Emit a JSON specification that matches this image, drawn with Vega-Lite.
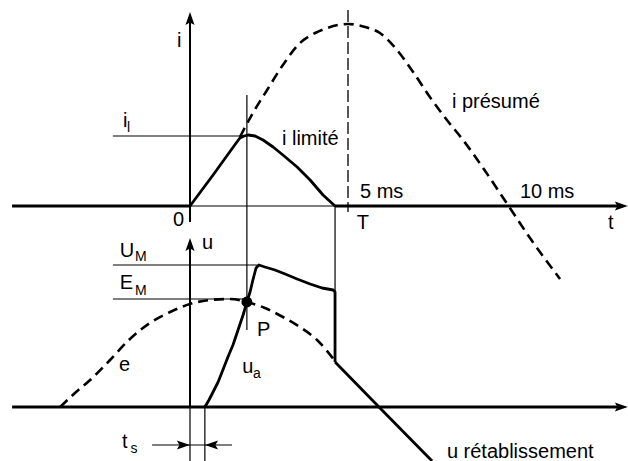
{
  "$schema": "https://vega.github.io/schema/vega-lite/v6.json",
  "width": 628,
  "height": 461,
  "padding": 0,
  "autosize": "none",
  "background": "white",
  "config": {"view": {"stroke": null}},
  "datasets": {
    "courbes": [
      {"s": "axe_t_haut", "k": 0, "t": -5.63, "v": 255},
      {"s": "axe_t_haut", "k": 1, "t": 13.54, "v": 255},
      {"s": "i_zero_avant", "k": 0, "t": -5.63, "v": 255},
      {"s": "i_zero_avant", "k": 1, "t": 0, "v": 255},
      {"s": "i_zero_apres", "k": 0, "t": 4.59, "v": 255},
      {"s": "i_zero_apres", "k": 1, "t": 13.54, "v": 255},
      {"s": "axe_i", "k": 0, "t": 0, "v": 239},
      {"s": "axe_i", "k": 1, "t": 0, "v": 440},
      {"s": "ref_il", "k": 0, "t": -2.44, "v": 325},
      {"s": "ref_il", "k": 1, "t": 1.8, "v": 325},
      {"s": "ref_247", "k": 0, "t": 1.8, "v": 366},
      {"s": "ref_247", "k": 1, "t": 1.8, "v": 131},
      {"s": "ref_335", "k": 0, "t": 4.59, "v": 255},
      {"s": "ref_335", "k": 1, "t": 4.59, "v": 169},
      {"s": "T", "k": 0, "t": 5.0, "v": 451},
      {"s": "T", "k": 1, "t": 5.0, "v": 249},
      {"s": "i_limite", "k": 0, "t": 0, "v": 255},
      {"s": "i_limite", "k": 1, "t": 0.73, "v": 286},
      {"s": "i_limite", "k": 2, "t": 1.46, "v": 318},
      {"s": "i_limite", "k": 3, "t": 1.58, "v": 323},
      {"s": "i_limite", "k": 4, "t": 1.71, "v": 325},
      {"s": "i_limite", "k": 5, "t": 1.84, "v": 326},
      {"s": "i_limite", "k": 6, "t": 2.06, "v": 325},
      {"s": "i_limite", "k": 7, "t": 2.31, "v": 321},
      {"s": "i_limite", "k": 8, "t": 2.63, "v": 314},
      {"s": "i_limite", "k": 9, "t": 2.94, "v": 306},
      {"s": "i_limite", "k": 10, "t": 3.39, "v": 294},
      {"s": "i_limite", "k": 11, "t": 3.8, "v": 281},
      {"s": "i_limite", "k": 12, "t": 4.21, "v": 266},
      {"s": "i_limite", "k": 13, "t": 4.59, "v": 255},
      {"s": "i_presume", "k": 0, "t": 1.58, "v": 324},
      {"s": "i_presume", "k": 1, "t": 1.99, "v": 348},
      {"s": "i_presume", "k": 2, "t": 2.44, "v": 371},
      {"s": "i_presume", "k": 3, "t": 2.94, "v": 396},
      {"s": "i_presume", "k": 4, "t": 3.48, "v": 418},
      {"s": "i_presume", "k": 5, "t": 3.96, "v": 428},
      {"s": "i_presume", "k": 6, "t": 4.34, "v": 433},
      {"s": "i_presume", "k": 7, "t": 4.68, "v": 436},
      {"s": "i_presume", "k": 8, "t": 5.0, "v": 437},
      {"s": "i_presume", "k": 9, "t": 5.54, "v": 434},
      {"s": "i_presume", "k": 10, "t": 6.01, "v": 428},
      {"s": "i_presume", "k": 11, "t": 6.55, "v": 411},
      {"s": "i_presume", "k": 12, "t": 7.06, "v": 389},
      {"s": "i_presume", "k": 13, "t": 7.59, "v": 364},
      {"s": "i_presume", "k": 14, "t": 8.13, "v": 341},
      {"s": "i_presume", "k": 15, "t": 8.64, "v": 321},
      {"s": "i_presume", "k": 16, "t": 9.34, "v": 290},
      {"s": "i_presume", "k": 17, "t": 10.06, "v": 256},
      {"s": "i_presume", "k": 18, "t": 10.76, "v": 223},
      {"s": "i_presume", "k": 19, "t": 11.71, "v": 182},
      {"s": "axe_t_bas", "k": 0, "t": -5.63, "v": 54},
      {"s": "axe_t_bas", "k": 1, "t": 13.54, "v": 54},
      {"s": "axe_u", "k": 0, "t": 0, "v": 54},
      {"s": "axe_u", "k": 1, "t": 0, "v": 218},
      {"s": "axe_u_bas", "k": 0, "t": 0, "v": 54},
      {"s": "axe_u_bas", "k": 1, "t": 0, "v": 0},
      {"s": "ref_205", "k": 0, "t": 0.47, "v": 54},
      {"s": "ref_205", "k": 1, "t": 0.47, "v": 0},
      {"s": "ref_UM", "k": 0, "t": -2.44, "v": 196},
      {"s": "ref_UM", "k": 1, "t": 2.12, "v": 196},
      {"s": "ref_EM", "k": 0, "t": -2.44, "v": 162},
      {"s": "ref_EM", "k": 1, "t": 1.8, "v": 162},
      {"s": "ts", "k": 0, "t": -1.2, "v": 16},
      {"s": "ts", "k": 1, "t": 1.33, "v": 16},
      {"s": "e", "k": 0, "t": -4.11, "v": 54},
      {"s": "e", "k": 1, "t": -3.64, "v": 68},
      {"s": "e", "k": 2, "t": -3.16, "v": 81},
      {"s": "e", "k": 3, "t": -2.53, "v": 101},
      {"s": "e", "k": 4, "t": -1.9, "v": 122},
      {"s": "e", "k": 5, "t": -1.27, "v": 138},
      {"s": "e", "k": 6, "t": -0.63, "v": 149},
      {"s": "e", "k": 7, "t": 0, "v": 157},
      {"s": "e", "k": 8, "t": 0.63, "v": 161},
      {"s": "e", "k": 9, "t": 1.27, "v": 162},
      {"s": "e", "k": 10, "t": 1.8, "v": 159},
      {"s": "e", "k": 11, "t": 2.37, "v": 153},
      {"s": "e", "k": 12, "t": 2.94, "v": 144},
      {"s": "e", "k": 13, "t": 3.48, "v": 134},
      {"s": "e", "k": 14, "t": 4.02, "v": 121},
      {"s": "e", "k": 15, "t": 4.59, "v": 100},
      {"s": "u_retab", "k": 0, "t": 4.59, "v": 99},
      {"s": "u_retab", "k": 1, "t": 5.98, "v": 54},
      {"s": "u_retab", "k": 2, "t": 7.66, "v": 0},
      {"s": "u_a", "k": 0, "t": 0.47, "v": 54},
      {"s": "u_a", "k": 1, "t": 0.6, "v": 61},
      {"s": "u_a", "k": 2, "t": 0.73, "v": 69},
      {"s": "u_a", "k": 3, "t": 0.89, "v": 79},
      {"s": "u_a", "k": 4, "t": 1.04, "v": 91},
      {"s": "u_a", "k": 5, "t": 1.2, "v": 104},
      {"s": "u_a", "k": 6, "t": 1.36, "v": 116},
      {"s": "u_a", "k": 7, "t": 1.52, "v": 131},
      {"s": "u_a", "k": 8, "t": 1.68, "v": 146},
      {"s": "u_a", "k": 9, "t": 1.8, "v": 159},
      {"s": "u_a", "k": 10, "t": 1.9, "v": 169},
      {"s": "u_a", "k": 11, "t": 1.99, "v": 181},
      {"s": "u_a", "k": 12, "t": 2.09, "v": 193},
      {"s": "u_a", "k": 13, "t": 2.18, "v": 196},
      {"s": "u_a", "k": 14, "t": 2.37, "v": 194},
      {"s": "u_a", "k": 15, "t": 2.69, "v": 191},
      {"s": "u_a", "k": 16, "t": 3.01, "v": 187},
      {"s": "u_a", "k": 17, "t": 3.39, "v": 182},
      {"s": "u_a", "k": 18, "t": 3.8, "v": 177},
      {"s": "u_a", "k": 19, "t": 4.18, "v": 173},
      {"s": "u_a", "k": 20, "t": 4.53, "v": 171},
      {"s": "u_a", "k": 21, "t": 4.59, "v": 169},
      {"s": "u_a", "k": 22, "t": 4.59, "v": 99}
    ],
    "etiquettes": [
      {"label": "i", "role": "texte", "t": -0.41, "v": 414},
      {"label": "0", "role": "texte", "t": -0.54, "v": 235},
      {"label": "i", "role": "texte", "t": -2.12, "v": 334},
      {"label": "l", "role": "indice", "t": -1.99, "v": 329},
      {"label": "i limité", "role": "texte", "t": 2.91, "v": 316},
      {"label": "i présumé", "role": "texte", "t": 8.29, "v": 353},
      {"label": "5 ms", "role": "texte", "t": 5.38, "v": 263},
      {"label": "10 ms", "role": "texte", "t": 10.44, "v": 263},
      {"label": "T", "role": "texte", "t": 5.28, "v": 232},
      {"label": "t", "role": "texte", "t": 13.23, "v": 232},
      {"label": "u", "role": "texte", "t": 0.38, "v": 212},
      {"label": "U", "role": "texte", "t": -2.22, "v": 204},
      {"label": "M", "role": "indice", "t": -1.74, "v": 200},
      {"label": "E", "role": "texte", "t": -2.22, "v": 172},
      {"label": "M", "role": "indice", "t": -1.74, "v": 166},
      {"label": "P", "role": "texte", "t": 2.12, "v": 125},
      {"label": "e", "role": "texte", "t": -2.25, "v": 90},
      {"label": "u", "role": "texte", "t": 1.65, "v": 88},
      {"label": "a", "role": "indice", "t": 1.99, "v": 83},
      {"label": "t", "role": "texte", "t": -2.15, "v": 13},
      {"label": "s", "role": "indice", "t": -1.88, "v": 8},
      {"label": "u rétablissement", "role": "texte", "t": 8.13, "v": 3}
    ],
    "fleches": [
      {"dir": "haut", "t": 0, "v": 442.5},
      {"dir": "haut", "t": 0, "v": 216.5},
      {"dir": "droite", "t": 13.65, "v": 255},
      {"dir": "droite", "t": 13.65, "v": 54},
      {"dir": "droite", "t": -0.21, "v": 16},
      {"dir": "gauche", "t": 0.68, "v": 16}
    ],
    "points": [
      {"nom": "P", "t": 1.8, "v": 159}
    ]
  },
  "encoding": {
    "x": {"field": "t", "type": "quantitative", "scale": {"domain": [-6.013, 13.861], "nice": false, "zero": false}, "axis": null},
    "y": {"field": "v", "type": "quantitative", "scale": {"domain": [0, 461], "nice": false, "zero": false}, "axis": null}
  },
  "layer": [
    {
      "data": {"name": "courbes"},
      "transform": [{"filter": {"field": "s", "oneOf": ["axe_t_haut", "ref_il", "ref_247", "ref_335", "ref_UM", "ref_EM", "axe_u_bas", "ref_205", "ts"]}}],
      "mark": {"type": "line", "color": "black", "strokeWidth": 1.2},
      "encoding": {"detail": {"field": "s"}, "order": {"field": "k", "type": "quantitative"}}
    },
    {
      "data": {"name": "courbes"},
      "transform": [{"filter": {"field": "s", "oneOf": ["axe_i", "axe_u"]}}],
      "mark": {"type": "line", "color": "black", "strokeWidth": 2},
      "encoding": {"detail": {"field": "s"}, "order": {"field": "k", "type": "quantitative"}}
    },
    {
      "data": {"name": "courbes"},
      "transform": [{"filter": {"field": "s", "oneOf": ["i_zero_avant", "i_zero_apres", "axe_t_bas", "i_limite", "u_a", "u_retab"]}}],
      "mark": {"type": "line", "color": "black", "strokeWidth": 2.8, "strokeJoin": "round"},
      "encoding": {"detail": {"field": "s"}, "order": {"field": "k", "type": "quantitative"}}
    },
    {
      "data": {"name": "courbes"},
      "transform": [{"filter": {"field": "s", "oneOf": ["i_presume", "e"]}}],
      "mark": {"type": "line", "color": "black", "strokeWidth": 2.6, "strokeDash": [10, 6], "interpolate": "monotone"},
      "encoding": {"detail": {"field": "s"}, "order": {"field": "k", "type": "quantitative"}}
    },
    {
      "data": {"name": "courbes"},
      "transform": [{"filter": {"field": "s", "oneOf": ["T"]}}],
      "mark": {"type": "line", "color": "black", "strokeWidth": 1.3, "strokeDash": [12, 4]},
      "encoding": {"detail": {"field": "s"}, "order": {"field": "k", "type": "quantitative"}}
    },
    {
      "data": {"name": "fleches"},
      "transform": [{"filter": "datum.dir === 'haut'"}],
      "mark": {"type": "point", "filled": true, "color": "black", "opacity": 1, "size": 169, "shape": "M0,-1 L0.7,1 L0,0.6 L-0.7,1 Z"}
    },
    {
      "data": {"name": "fleches"},
      "transform": [{"filter": "datum.dir === 'droite'"}],
      "mark": {"type": "point", "filled": true, "color": "black", "opacity": 1, "size": 169, "shape": "M1,0 L-1,-0.7 L-0.6,0 L-1,0.7 Z"}
    },
    {
      "data": {"name": "fleches"},
      "transform": [{"filter": "datum.dir === 'gauche'"}],
      "mark": {"type": "point", "filled": true, "color": "black", "opacity": 1, "size": 169, "shape": "M-1,0 L1,-0.7 L0.6,0 L1,0.7 Z"}
    },
    {
      "data": {"name": "points"},
      "mark": {"type": "point", "filled": true, "color": "black", "opacity": 1, "size": 120, "shape": "circle"}
    },
    {
      "data": {"name": "etiquettes"},
      "transform": [{"filter": "datum.role === 'texte'"}],
      "mark": {"type": "text", "font": "Liberation Sans", "fontSize": 20, "align": "left", "baseline": "alphabetic", "color": "black"},
      "encoding": {"text": {"field": "label"}}
    },
    {
      "data": {"name": "etiquettes"},
      "transform": [{"filter": "datum.role === 'indice'"}],
      "mark": {"type": "text", "font": "Liberation Sans", "fontSize": 14, "align": "left", "baseline": "alphabetic", "color": "black"},
      "encoding": {"text": {"field": "label"}}
    }
  ]
}
